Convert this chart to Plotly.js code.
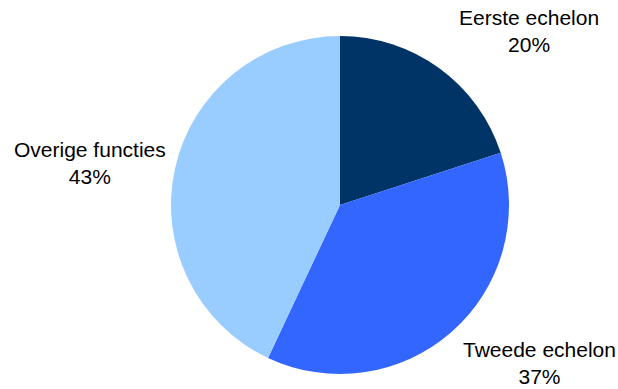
<!DOCTYPE html>
<html>
<head>
<meta charset="utf-8">
<script src="https://cdn.plot.ly/plotly-3.0.1.min.js"></script>
<style>html,body{margin:0;padding:0;background:#fff;}#chart{width:618px;height:389px;}</style>
</head>
<body>
<div id="chart"></div>
<script>
const categories = ["Eerste echelon", "Tweede echelon", "Overige functies"];
const values = [20, 37, 43];
const colors = ["#003366", "#3366FF", "#99CCFF"];
// label centre positions in pixels (layout only)
const labelPos = [[529, 31], [539, 363], [90, 163]];

const W = 618, H = 389;
const total = values.reduce((a, b) => a + b, 0);
const cx = 340, cy = 205, r = 169;

const annotations = categories.map((c, i) => ({
  text: c + "<br>" + Math.round(values[i] / total * 100) + "%",
  x: labelPos[i][0] / W, y: 1 - labelPos[i][1] / H,
  xref: "paper", yref: "paper", xanchor: "center", yanchor: "middle",
  showarrow: false, align: "center",
  font: {family: "Liberation Sans, Arial, sans-serif", size: 21, color: "#000"}
}));

const trace = {
  type: "pie",
  labels: categories,
  values: values,
  marker: {colors: colors, line: {width: 0}},
  sort: false,
  direction: "clockwise",
  rotation: 0,
  textinfo: "none",
  hoverinfo: "none",
  domain: {x: [(cx - r) / W, (cx + r) / W], y: [1 - (cy + r) / H, 1 - (cy - r) / H]}
};

Plotly.newPlot("chart", [trace], {
  width: W, height: H,
  margin: {l: 0, r: 0, t: 0, b: 0},
  showlegend: false,
  paper_bgcolor: "#fff",
  annotations: annotations
}, {staticPlot: true});
</script>
</body>
</html>
